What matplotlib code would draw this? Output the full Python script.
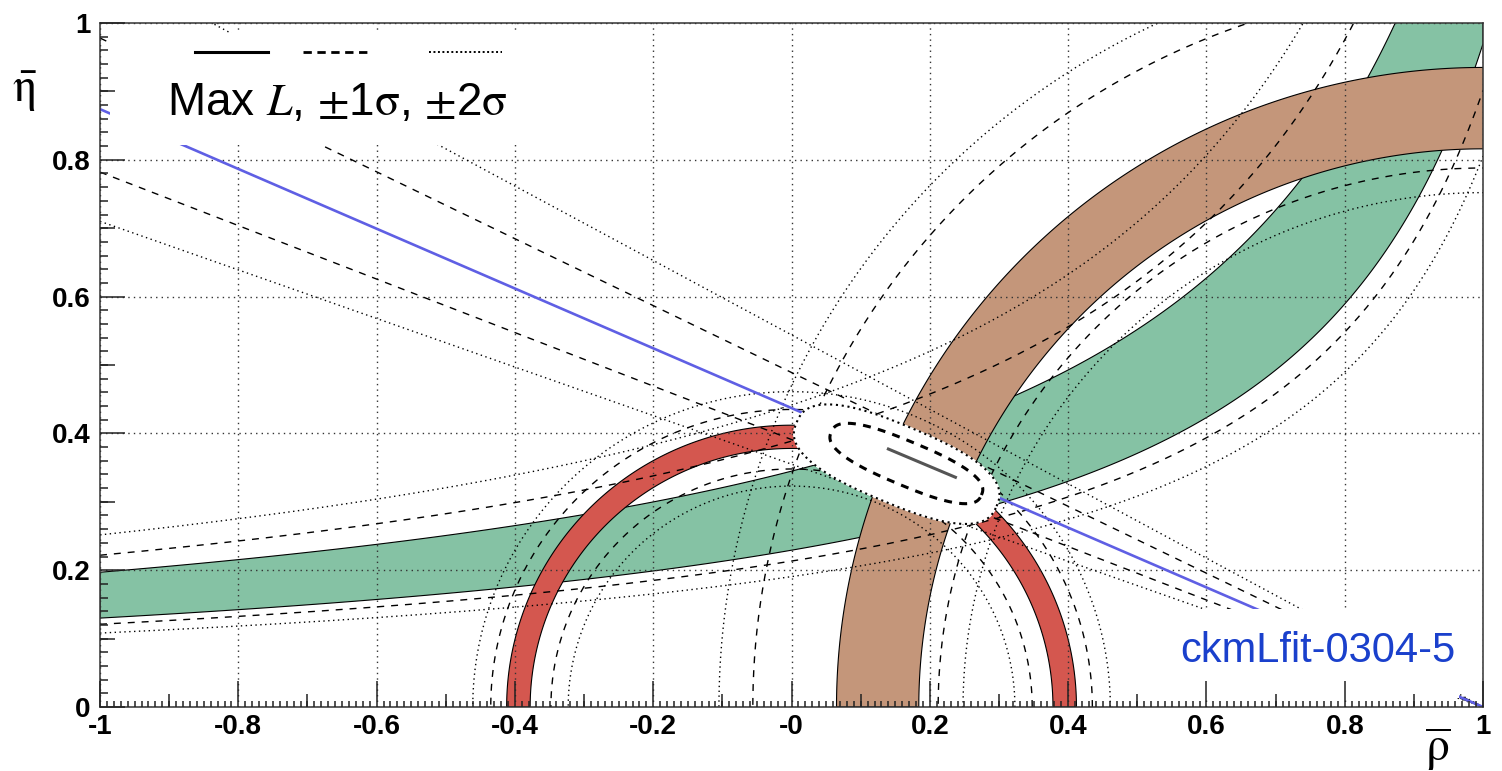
import numpy as np
import matplotlib.pyplot as plt
from matplotlib.patches import Rectangle

plt.rcParams['font.family'] = ['Liberation Sans', 'DejaVu Sans']
plt.rcParams['mathtext.fontset'] = 'stix'

# |Vub/Vcb| : circles around (0,0)  (band, 1 sigma, 2 sigma radii)
vub_band = [0.378, 0.412]
vub_1s = [0.348, 0.435]
vub_2s = [0.323, 0.461]

# dm_d : circles around (1,0)
dmd_band = [0.816, 0.935]
dmd_1s = [0.788, 1.056]
dmd_2s = [0.752, 1.105]

# eps_K : hyperbolas eta = k / (a - rho), (a, k) for lower / upper edge
epsk_band = [(1.3095, 0.3002), (1.3325, 0.4595)]
epsk_1s = [(1.31, 0.2795), (1.33, 0.517)]
epsk_2s = [(1.31, 0.2497), (1.325, 0.585)]

# sin2beta : lines through (1,0), value = tan(beta)
sin2b_central = 0.437
sin2b_1s = [0.391, 0.489]
sin2b_2s = [0.355, 0.544]

# global fit
fit_slope = -0.425
fit_center_1s = (0.166, 0.356)
fit_axes_1s = (0.118, 0.032)
fit_center_2s = (0.152, 0.355)
fit_axes_2s = (0.157, 0.057)
maxL_rho = [0.138, 0.239]
maxL_eta = [0.378, 0.335]

xticks = [-1, -0.8, -0.6, -0.4, -0.2, 0, 0.2, 0.4, 0.6, 0.8, 1]
xlabels = ['-1', '-0.8', '-0.6', '-0.4', '-0.2', '-0', '0.2', '0.4', '0.6', '0.8', '1']
yticks = [0, 0.2, 0.4, 0.6, 0.8, 1]
ylabels = ['0', '0.2', '0.4', '0.6', '0.8', '1']

red = '#d4574f'
brown = '#c4967a'
green = '#85c2a4'
blue = '#5f5fe4'

fig = plt.figure(figsize=(15.02, 7.71), dpi=100)
ax = fig.add_axes([0.0666, 0.083, 0.9208, 0.8872])
ax.set_xlim(-1, 1)
ax.set_ylim(0, 1)

th = np.linspace(0, np.pi, 500)
rho = np.linspace(-1, 1, 500)


def arc(cx, r):
    return cx + r * np.cos(th), r * np.sin(th)


def hyper(a, k):
    return rho, k / (a - rho)


def band(c1, c2, color, z):
    x = np.concatenate([c1[0], c2[0][::-1]])
    y = np.concatenate([c1[1], c2[1][::-1]])
    ax.fill(x, y, facecolor=color, edgecolor='black', lw=0.8, zorder=z)


def blob(c, ab, n=2.6):
    t = np.linspace(0, 2 * np.pi, 400)
    u = ab[0] * np.sign(np.cos(t)) * np.abs(np.cos(t)) ** (2 / n)
    v = ab[1] * np.sign(np.sin(t)) * np.abs(np.sin(t)) ** (2 / n)
    ang = np.arctan(fit_slope)
    return (c[0] + u * np.cos(ang) - v * np.sin(ang),
            c[1] + u * np.sin(ang) + v * np.cos(ang))


band(hyper(*epsk_band[0]), hyper(*epsk_band[1]), green, 1.0)
band(arc(1, dmd_band[0]), arc(1, dmd_band[1]), brown, 1.1)
band(arc(0, vub_band[0]), arc(0, vub_band[1]), red, 1.2)

# grid
for v in xticks:
    ax.axvline(v, ls=(0, (1, 3)), lw=1, color='#333333', zorder=1.5)
for v in yticks:
    ax.axhline(v, ls=(0, (1, 3)), lw=1, color='#333333', zorder=1.5)

dash = dict(color='black', lw=1.0, ls=(0, (5, 5)), zorder=2)
dot = dict(color='black', lw=1.0, ls=(0, (1, 2.5)), zorder=2)

for r in vub_1s:
    ax.plot(*arc(0, r), **dash)
for r in vub_2s:
    ax.plot(*arc(0, r), **dot)
for r in dmd_1s:
    ax.plot(*arc(1, r), **dash)
for r in dmd_2s:
    ax.plot(*arc(1, r), **dot)
for a, k in epsk_1s:
    ax.plot(*hyper(a, k), **dash)
for a, k in epsk_2s:
    ax.plot(*hyper(a, k), **dot)

xl = np.array([-1.0, 1.0])
for t in sin2b_1s:
    ax.plot(xl, t * (1 - xl), **dash)
for t in sin2b_2s:
    ax.plot(xl, t * (1 - xl), **dot)
ax.plot(xl, sin2b_central * (1 - xl), color=blue, lw=1.9, zorder=2.1)

# combined fit contours
x2, y2 = blob(fit_center_2s, fit_axes_2s)
ax.fill(x2, y2, color='white', zorder=3)
ax.plot(x2, y2, color='black', lw=1.5, ls=(0, (1, 1.8)), zorder=3.5)
x1, y1 = blob(fit_center_1s, fit_axes_1s)
ax.plot(x1, y1, color='black', lw=2.2, ls=(0, (2.6, 2.4)), zorder=3.5)
ax.plot(maxL_rho, maxL_eta, color='#555555', lw=2.2, solid_capstyle='butt', zorder=3.6)

# legend and label boxes
ax.add_patch(Rectangle((-0.985, 0.822), 0.685, 0.163, facecolor='white',
                       edgecolor='none', zorder=4))
ax.add_patch(Rectangle((0.5, 0.013), 0.465, 0.13, facecolor='white',
                       edgecolor='none', zorder=4))

ax.plot([0.0685, 0.1215], [0.957, 0.957], transform=ax.transAxes,
        color='black', lw=2.2, zorder=4.5)
ax.plot([0.147, 0.1955], [0.957, 0.957], transform=ax.transAxes,
        color='black', lw=2.0, ls=(0, (3, 2)), zorder=4.5)
ax.plot([0.238, 0.291], [0.957, 0.957], transform=ax.transAxes,
        color='black', lw=1.4, ls=(0, (1, 1.3)), zorder=4.5)
ax.text(0.0485, 0.865,
        r"Max $\mathit{L}$, $\pm$1$\mathrm{\sigma}$, $\pm$2$\mathrm{\sigma}$",
        transform=ax.transAxes, fontsize=33, va='baseline', zorder=4.5)
ax.text(0.562, 0.066, 'ckmLfit-0304-5', color='#1a40cc', fontsize=30,
        va='baseline', zorder=4.5)

# axes, ticks
ax.set_xticks(xticks)
ax.set_xticklabels(xlabels)
ax.set_yticks(yticks)
ax.set_yticklabels(ylabels)
ax.set_xticks(np.arange(-1, 1.001, 0.01), minor=True)
ax.set_yticks(np.arange(0, 1.001, 0.02), minor=True)
ax.tick_params(which='both', direction='in', top=False, right=False, width=1.1,
               color='#222222')
ax.tick_params(axis='x', which='major', length=19, pad=5)
ax.tick_params(axis='x', which='minor', length=4.5)
ax.tick_params(axis='y', which='major', length=18, pad=7)
ax.tick_params(axis='y', which='minor', length=6)
ax.vlines(np.arange(-0.9, 1, 0.2), 0, 0.019, transform=ax.get_xaxis_transform(),
          color='#222222', lw=1.1, zorder=10)
ax.hlines(np.arange(0.1, 1, 0.2), 0, 0.0108, transform=ax.get_yaxis_transform(),
          color='#222222', lw=1.1, zorder=10)
for lab in ax.get_xticklabels() + ax.get_yticklabels():
    lab.set_fontweight('bold')
    lab.set_fontsize(20)
ax.xaxis.set_zorder(10)
ax.yaxis.set_zorder(10)
for s in ax.spines.values():
    s.set_linewidth(1.1)
    s.set_color('#333333')
    s.set_zorder(10)

fig.text(0.016, 0.881, r'$\bar{\mathrm{\eta}}$', fontsize=34, ha='center', va='center')
fig.text(0.957, 0.028, r'$\overline{\mathrm{\rho}}$', fontsize=34, ha='center', va='center')

fig.savefig('out.png', dpi=100, facecolor='white')
